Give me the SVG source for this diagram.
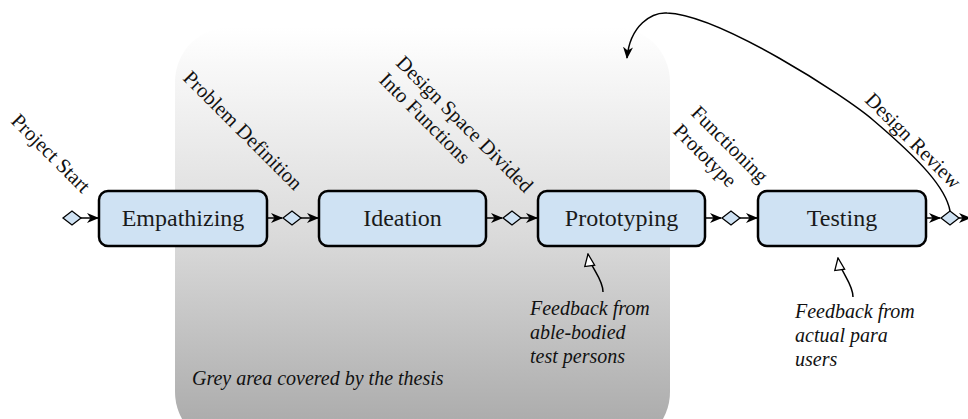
<svg xmlns="http://www.w3.org/2000/svg" width="968" height="419" viewBox="0 0 968 419">
<defs>
<linearGradient id="grey" x1="0" y1="0" x2="0" y2="1">
<stop offset="0" stop-color="#ffffff"/>
<stop offset="0.5" stop-color="#dadada"/>
<stop offset="1" stop-color="#a6a6a6"/>
</linearGradient>
<marker id="stealth" viewBox="0 0 12 10" refX="11" refY="5" markerWidth="12" markerHeight="10" markerUnits="userSpaceOnUse" orient="auto">
<path d="M0,0 L12,5 L0,10 L3.5,5 z" fill="#000"/>
</marker>
<marker id="open" viewBox="0 0 14 12" refX="13" refY="6" markerWidth="14" markerHeight="12" markerUnits="userSpaceOnUse" orient="auto">
<path d="M1,1 L13,6 L1,11 z" fill="#fff" stroke="#000" stroke-width="1.3" stroke-linejoin="miter"/>
</marker>
</defs>
<style>
text{font-family:'Liberation Serif','Times New Roman',Times,'DejaVu Serif',serif}
.node rect{fill:#cfe2f3;stroke:#000;stroke-width:2.5}
.node text{font-size:24px;fill:#1a1a1a;text-anchor:middle}
.dia{fill:#cfe2f3;stroke:#000;stroke-width:1.3}
.lbl{font-size:20.5px;fill:#111}
.it{font-size:20px;font-style:italic;fill:#111}
.edge{fill:none;stroke:#000;stroke-width:1.5}
</style>
<g id="grey-area">
<rect x="175" y="27" width="495" height="420" rx="55" fill="url(#grey)"/>
<text class="it" x="192" y="385" font-family="Liberation Serif, serif">Grey area covered by the thesis</text>
</g>
<g id="connectors">
<path class="edge" d="M81,218 L98,218" marker-end="url(#stealth)"/>
<path class="edge" d="M267,218 L282,218" marker-end="url(#stealth)"/>
<path class="edge" d="M301,218 L318,218" marker-end="url(#stealth)"/>
<path class="edge" d="M486,218 L502,218" marker-end="url(#stealth)"/>
<path class="edge" d="M521,218 L537,218" marker-end="url(#stealth)"/>
<path class="edge" d="M705,218 L721,218" marker-end="url(#stealth)"/>
<path class="edge" d="M740,218 L757,218" marker-end="url(#stealth)"/>
<path class="edge" d="M926,218 L940,218" marker-end="url(#stealth)"/>
<path class="edge" d="M959,218 L970,218" marker-end="url(#stealth)"/>
<path class="edge" d="M950,211 C946,188 920,160 873,120 C845,96 720,15 667,13 C652,12 630,25 627,58" marker-end="url(#stealth)"/>
<path class="edge" d="M603,292 C603,278 590,268 588,254" marker-end="url(#open)"/>
<path class="edge" d="M853,297 C853,283 840,272 838,258" marker-end="url(#open)"/>
</g>
<g id="diamonds">
<path class="dia" d="M63,218 L72,211 L81,218 L72,225 z"/>
<path class="dia" d="M283,218 L292,211 L301,218 L292,225 z"/>
<path class="dia" d="M503,218 L512,211 L521,218 L512,225 z"/>
<path class="dia" d="M722,218 L731,211 L740,218 L731,225 z"/>
<path class="dia" d="M941,218 L950,211 L959,218 L950,225 z"/>
</g>
<g id="labels">
<text class="lbl" transform="translate(10,122) rotate(45)">Project Start</text>
<text class="lbl" transform="translate(182,79) rotate(45)">Problem Definition</text>
<text class="lbl" transform="translate(395,64) rotate(45)">Design Space Divided</text>
<text class="lbl" transform="translate(378,81) rotate(45)">Into Functions</text>
<text class="lbl" transform="translate(690,114) rotate(45)">Functioning</text>
<text class="lbl" transform="translate(672,132) rotate(45)">Prototype</text>
<text class="lbl" text-anchor="end" transform="translate(953,190) rotate(45)">Design Review</text>
</g>
<g id="empathizing" class="node">
<rect x="99" y="191" width="168" height="55" rx="9"/>
<text x="183" y="226">Empathizing</text>
</g>
<g id="ideation" class="node">
<rect x="319" y="191" width="167" height="55" rx="9"/>
<text x="402.5" y="226">Ideation</text>
</g>
<g id="prototyping" class="node">
<rect x="538" y="191" width="167" height="55" rx="9"/>
<text x="621.5" y="226">Prototyping</text>
</g>
<g id="testing" class="node">
<rect x="758" y="191" width="168" height="55" rx="9"/>
<text x="842" y="226">Testing</text>
</g>
<g id="feedback-notes">
<text class="it" x="530" y="315">Feedback from</text>
<text class="it" x="530" y="339">able-bodied</text>
<text class="it" x="530" y="363">test persons</text>
<text class="it" x="795" y="318">Feedback from</text>
<text class="it" x="795" y="342">actual para</text>
<text class="it" x="795" y="366">users</text>
</g>
</svg>
